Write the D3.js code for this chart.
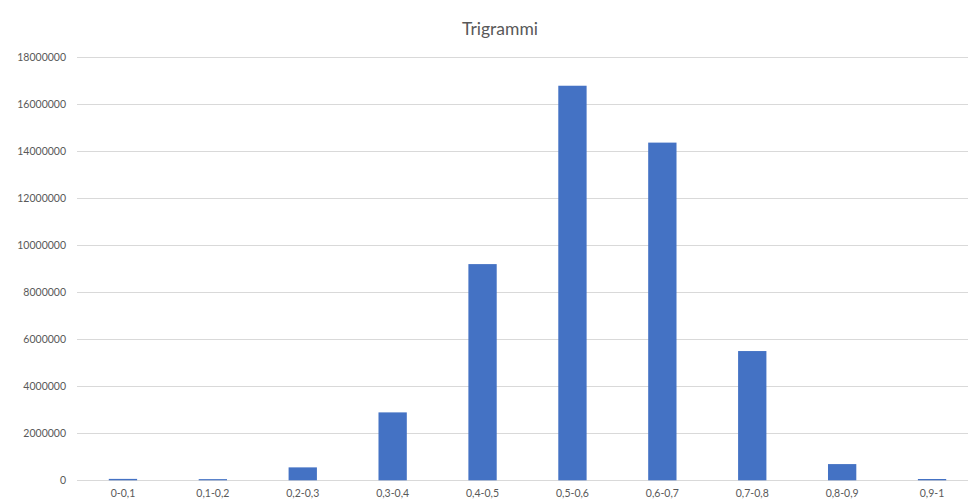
<!DOCTYPE html>
<html>
<head>
<meta charset="utf-8">
<script src="https://cdn.jsdelivr.net/npm/d3@7"></script>
<style>
  html, body { margin: 0; padding: 0; background: #fff; }
  svg { display: block; }
  text { font-family: Lato, "Open Sans", sans-serif; fill: #595959; }
</style>
</head>
<body>
<svg id="chart" width="968" height="504"></svg>
<script>
const categories = ["0-0,1", "0,1-0,2", "0,2-0,3", "0,3-0,4", "0,4-0,5", "0,5-0,6", "0,6-0,7", "0,7-0,8", "0,8-0,9", "0,9-1"];
const values = [60000, 50000, 550000, 2890000, 9200000, 16790000, 14370000, 5500000, 690000, 55000];
const yTicks = [0, 2000000, 4000000, 6000000, 8000000, 10000000, 12000000, 14000000, 16000000, 18000000];
const chartTitle = "Trigrammi";

const svg = d3.select("#chart");
const W = 968;

const x = d3.scaleBand().domain(categories).range([78, 977]).padding(0);
const y = d3.scaleLinear().domain([0, 18000000]).range([480.3, 57.3]);

// horizontal gridlines
svg.append("g")
  .selectAll("line")
  .data(yTicks)
  .join("line")
  .attr("x1", 77)
  .attr("x2", W)
  .attr("y1", d => Math.round(y(d)) + 0.5)
  .attr("y2", d => Math.round(y(d)) + 0.5)
  .attr("stroke", "#d9d9d9")
  .attr("stroke-width", 1);

// y axis labels
const yAxis = d3.axisLeft(y).tickValues(yTicks).tickSize(0).tickPadding(0).tickFormat(d3.format("d"));
const yg = svg.append("g").attr("transform", "translate(66,0)").call(yAxis);
yg.select(".domain").remove();
yg.selectAll("text").attr("font-size", 10.5).style("fill", "#595959").attr("font-family", "Lato, sans-serif");

// bars
const barW = x.bandwidth() * 0.315;
svg.append("g")
  .selectAll("rect")
  .data(values)
  .join("rect")
  .attr("x", (d, i) => x(categories[i]) + x.bandwidth() / 2 - barW / 2)
  .attr("width", barW)
  .attr("y", d => y(d))
  .attr("height", d => y(0) - y(d))
  .attr("fill", "#4472c4");

// x axis labels
const xAxis = d3.axisBottom(x).tickSize(0).tickPadding(0);
const xg = svg.append("g").attr("transform", "translate(0,490)").call(xAxis);
xg.select(".domain").remove();
xg.selectAll("text").attr("font-size", 10.5).style("fill", "#595959").attr("font-family", "Lato, sans-serif");

// title
svg.append("text")
  .attr("x", 500)
  .attr("y", 35)
  .attr("text-anchor", "middle")
  .attr("font-size", 17.5)
  .text(chartTitle);
</script>
</body>
</html>
